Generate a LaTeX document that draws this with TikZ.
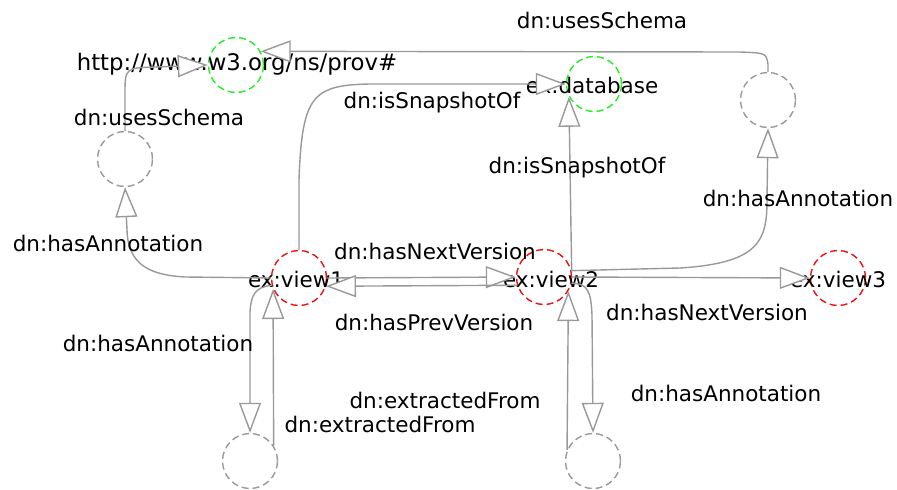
\documentclass[tikz,border=0pt]{standalone}
\usepackage{fontspec}
\setmainfont{DejaVu Sans}
\usetikzlibrary{arrows.meta}
\definecolor{edgegray}{HTML}{999999}
\definecolor{vgreen}{HTML}{22EE22}
\definecolor{vred}{HTML}{EE1111}
\definecolor{vgray}{HTML}{999999}
\begin{document}
\begin{tikzpicture}[x=1pt,y=-1pt,
  vtx/.style={circle, draw, dash pattern=on 7pt off 4pt, line width=1.4pt, minimum size=55pt, inner sep=0pt},
  schema/.style={vtx, draw=vgreen},
  resource/.style={vtx, draw=vred},
  blank/.style={vtx, draw=vgray},
  edge/.style={draw=edgegray, line width=1.4pt, -{Triangle[length=30pt,width=22pt,fill=white,line width=1.4pt]}},
  lbl/.style={font=\fontsize{21.5}{25}\selectfont, inner sep=0pt, text=black}
]
\useasboundingbox (0,0) rectangle (897,490);

% vertices
\node[schema]   (P)  at (236,65)  {};
\node[schema]   (D)  at (594,84)  {};
\node[blank]    (aR) at (768,100) {};
\node[blank]    (aL) at (125,159) {};
\node[resource] (v1) at (299,278) {};
\node[resource] (v2) at (544,277) {};
\node[resource] (v3) at (838,278) {};
\node[blank]    (bL) at (250,461) {};
\node[blank]    (bR) at (593,461) {};

% vertex labels
\node[lbl, font=\fontsize{22.8}{26}\selectfont] (tP) at (237,64) {http://www.w3.org/ns/prov\#};
\node[lbl] (tD)  at (592,85)  {ex:database};
\node[lbl] (t1)  at (296,279) {ex:view1};
\node[lbl] (t2)  at (551,279) {ex:view2};
\node[lbl] (t3)  at (838,279) {ex:view3};

% edges
\draw[edge] (aL.north) -- (125,95) .. controls (125,68) .. (155,67) -- (P.west);
\draw[edge] (aR.north) -- (768,64) .. controls (766,53) .. (740,52) -- (P.29);
\draw[edge] (v1.north) -- (299,180) .. controls (302,96) and (312,85) .. (370,84) -- (D.west);
\draw[edge] (v2.11) -- (D.207);
\draw[edge] (v2.13) -- (680,268) .. controls (760,263) and (767,240) .. (767,200) -- (aR.south);
\draw[edge] (v1.west) -- (185,277) .. controls (150,275) and (128,265) .. (127,230) -- (aL.south);
\draw[edge] (v2.east) -- (v3.west);
\draw[edge] (v1.east) -- (v2.west);
\draw[edge] (v2.197) -- (v1.343);
\draw[edge] (v1.195) .. controls (255,287) and (251,295) .. (250,312) -- (bL.north);
\draw[edge] (bL.33) -- (v1.203);
\draw[edge] (bR.157) -- (v2.-30);
\draw[edge] (v2.-13) .. controls (588,283) and (591,292) .. (592,315) -- (bR.north);

% edge labels
\node[lbl] (e1)  at (159,117) {dn:usesSchema};
\node[lbl] (e2)  at (602,20)  {dn:usesSchema};
\node[lbl] (e3)  at (432,103) {dn:isSnapshotOf};
\node[lbl] (e4)  at (577,168) {dn:isSnapshotOf};
\node[lbl] (e5)  at (798,198) {dn:hasAnnotation};
\node[lbl] (e6)  at (108,243) {dn:hasAnnotation};
\node[lbl] (e7)  at (435,251) {dn:hasNextVersion};
\node[lbl] (e8)  at (434,322) {dn:hasPrevVersion};
\node[lbl] (e9)  at (707,312) {dn:hasNextVersion};
\node[lbl] (e10) at (158,343) {dn:hasAnnotation};
\node[lbl] (e11) at (445,400) {dn:extractedFrom};
\node[lbl] (e12) at (380,424) {dn:extractedFrom};
\node[lbl] (e13) at (726,393) {dn:hasAnnotation};
\end{tikzpicture}
\end{document}
